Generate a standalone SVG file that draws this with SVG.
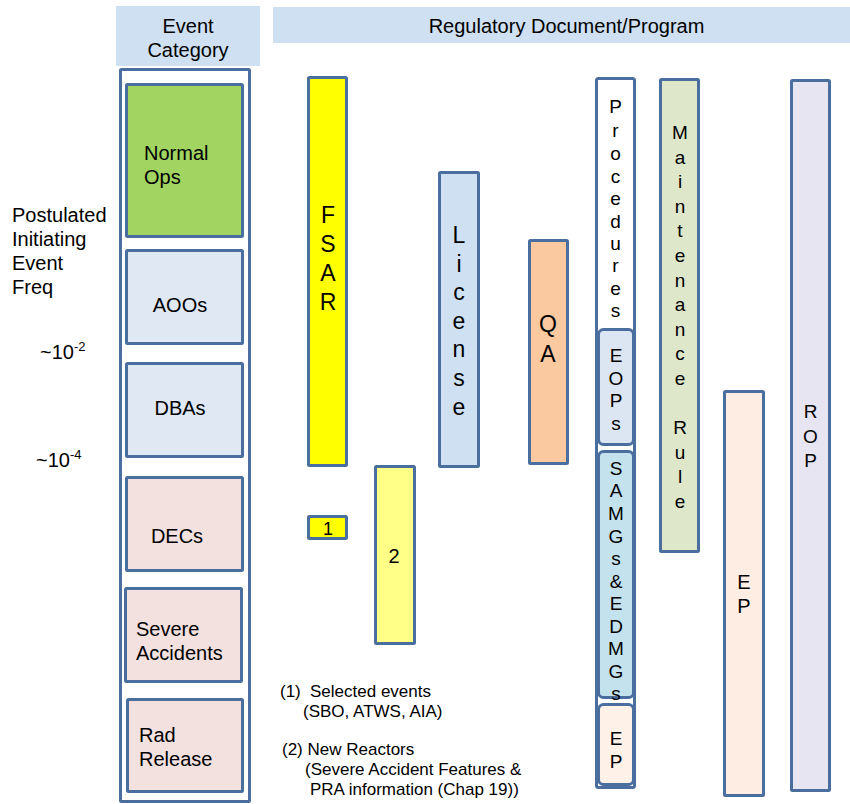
<svg xmlns="http://www.w3.org/2000/svg" width="850" height="804" viewBox="0 0 850 804">
<style>
text{font-family:"Liberation Sans",Arial,sans-serif;fill:#000}
.b{stroke:#4a6e9e;stroke-width:3}
.t20{font-size:20px}
.t19{font-size:19px}
.t23{font-size:23px}
.t16{font-size:17px}
.v{text-anchor:middle}
</style>
<rect width="850" height="804" fill="#fff"/>
<g id="header-event">
<rect x="116" y="6" width="144" height="60" fill="#cfe0f2"/>
<text class="t20 v" x="188" y="33">Event</text>
<text class="t20 v" x="188" y="57">Category</text>
</g>
<g id="header-regulatory">
<rect x="273" y="7" width="577" height="36" fill="#cfe0f2"/>
<text class="t20 v" x="566.5" y="33" font-size="20.3">Regulatory Document/Program</text>
</g>
<g id="freq-labels">
<text class="t20" x="12" y="222">Postulated</text>
<text class="t20" x="12" y="246">Initiating</text>
<text class="t20" x="12" y="270">Event</text>
<text class="t20" x="12" y="294">Freq</text>
<text class="t20" x="40" y="359">~10<tspan font-size="13" dy="-8">-2</tspan></text>
<text class="t20" x="36" y="467">~10<tspan font-size="13" dy="-8">-4</tspan></text>
</g>
<g id="event-column">
<rect class="b" x="120.5" y="69.5" width="129" height="732" fill="#fff" rx="1"/>
</g>
<g id="normal-ops">
<rect class="b" x="126.5" y="84.5" width="116" height="152" fill="#a1d460" rx="1"/>
<text class="t20" x="144" y="160">Normal</text>
<text class="t20" x="144" y="184">Ops</text>
</g>
<g id="aoos">
<rect class="b" x="126.5" y="250.5" width="116" height="93" fill="#dfe8f3" rx="1"/>
<text class="t20 v" x="180" y="312">AOOs</text>
</g>
<g id="dbas">
<rect class="b" x="126.5" y="363.5" width="116" height="93" fill="#dfe8f3" rx="1"/>
<text class="t20 v" x="180" y="415">DBAs</text>
</g>
<g id="decs">
<rect class="b" x="126.5" y="477.5" width="116" height="93" fill="#f3e1e0" rx="1"/>
<text class="t20 v" x="177" y="543">DECs</text>
</g>
<g id="severe-accidents">
<rect class="b" x="125.5" y="588.5" width="116" height="93" fill="#f3e1e0" rx="1"/>
<text class="t20" x="136" y="636">Severe</text>
<text class="t20" x="136" y="660">Accidents</text>
</g>
<g id="rad-release">
<rect class="b" x="127.5" y="699.5" width="115" height="92" fill="#f3e1e0" rx="1"/>
<text class="t20" x="139" y="742">Rad</text>
<text class="t20" x="139" y="766">Release</text>
</g>
<g id="fsar">
<rect class="b" x="308.5" y="77.5" width="38" height="388" fill="#ffff00" rx="1"/>
<text class="t23 v"><tspan x="328" y="223">F</tspan><tspan x="328" y="252">S</tspan><tspan x="328" y="281">A</tspan><tspan x="328" y="310">R</tspan></text>
</g>
<g id="fsar-1">
<rect class="b" x="308.5" y="516.5" width="38" height="22" fill="#ffff00" rx="1"/>
<text class="v" font-size="18" x="328" y="535">1</text>
</g>
<g id="fsar-2">
<rect class="b" x="375.5" y="466.5" width="39" height="177" fill="#ffff88" rx="1"/>
<text class="t20 v" x="394" y="563">2</text>
</g>
<g id="license">
<rect class="b" x="439.5" y="172.5" width="39" height="294" fill="#cfe0f2" rx="1"/>
<text class="t23 v"><tspan x="459" y="243">L</tspan><tspan x="459" y="272">i</tspan><tspan x="459" y="300">c</tspan><tspan x="459" y="329">e</tspan><tspan x="459" y="357">n</tspan><tspan x="459" y="386">s</tspan><tspan x="459" y="415">e</tspan></text>
</g>
<g id="qa">
<rect class="b" x="529.5" y="240.5" width="38" height="223" fill="#fbc9a0" rx="1"/>
<text class="t23 v"><tspan x="548" y="332">Q</tspan><tspan x="548" y="362">A</tspan></text>
</g>
<g id="procedures">
<rect class="b" x="596.5" y="78.5" width="38" height="709" fill="#fff" rx="2"/>
<text class="t19 v"><tspan x="615.5" y="113">P</tspan><tspan x="615.5" y="137">r</tspan><tspan x="615.5" y="160">o</tspan><tspan x="615.5" y="183">c</tspan><tspan x="615.5" y="205">e</tspan><tspan x="615.5" y="228">d</tspan><tspan x="615.5" y="250">u</tspan><tspan x="615.5" y="272">r</tspan><tspan x="615.5" y="295">e</tspan><tspan x="615.5" y="317">s</tspan></text>
</g>
<g id="eops">
<rect class="b" x="598.5" y="329.5" width="35" height="115" fill="#dce6f2" rx="5"/>
<text class="t19 v"><tspan x="616" y="362">E</tspan><tspan x="616" y="385">O</tspan><tspan x="616" y="407">P</tspan><tspan x="616" y="430">s</tspan></text>
</g>
<g id="samgs-edmgs">
<rect class="b" x="598.5" y="451.5" width="35" height="246" fill="#c4e2ed" rx="5"/>
<text class="t19 v"><tspan x="616" y="475">S</tspan><tspan x="616" y="497">A</tspan><tspan x="616" y="520">M</tspan><tspan x="616" y="543">G</tspan><tspan x="616" y="565">s</tspan><tspan x="616" y="588">&amp;</tspan><tspan x="616" y="610">E</tspan><tspan x="616" y="633">D</tspan><tspan x="616" y="655">M</tspan><tspan x="616" y="678">G</tspan><tspan x="616" y="700">s</tspan></text>
</g>
<g id="ep-inner">
<rect class="b" x="598.5" y="704.5" width="35" height="80" fill="#fdf1e8" rx="5"/>
<text class="t19 v"><tspan x="616" y="745">E</tspan><tspan x="616" y="768">P</tspan></text>
</g>
<g id="maintenance-rule">
<rect class="b" x="660.5" y="79.5" width="38" height="472" fill="#dee7ca" rx="1"/>
<text class="t19 v"><tspan x="680" y="139">M</tspan><tspan x="680" y="164">a</tspan><tspan x="680" y="188">i</tspan><tspan x="680" y="213">n</tspan><tspan x="680" y="237">t</tspan><tspan x="680" y="262">e</tspan><tspan x="680" y="287">n</tspan><tspan x="680" y="311">a</tspan><tspan x="680" y="336">n</tspan><tspan x="680" y="360">c</tspan><tspan x="680" y="385">e</tspan><tspan x="680" y="434">R</tspan><tspan x="680" y="459">u</tspan><tspan x="680" y="483">l</tspan><tspan x="680" y="508">e</tspan></text>
</g>
<g id="ep">
<rect class="b" x="724.5" y="391.5" width="39" height="404" fill="#fdede2" rx="1"/>
<text class="t20 v"><tspan x="744" y="589">E</tspan><tspan x="744" y="613">P</tspan></text>
</g>
<g id="rop">
<rect class="b" x="791.5" y="80.5" width="38" height="710" fill="#e7e5f1" rx="1"/>
<text class="t19 v"><tspan x="810.5" y="418">R</tspan><tspan x="810.5" y="443">O</tspan><tspan x="810.5" y="467">P</tspan></text>
</g>
<g id="footnotes">
<text class="t16" x="280" y="697">(1)<tspan x="310">Selected events</tspan></text>
<text class="t16" x="303" y="717">(SBO, ATWS, AIA)</text>
<text class="t16" x="282" y="755">(2) New Reactors</text>
<text class="t16" x="305" y="775">(Severe Accident Features &amp;</text>
<text class="t16" x="310" y="795">PRA information (Chap 19))</text>
</g>
<g id="connectors"></g>
</svg>
